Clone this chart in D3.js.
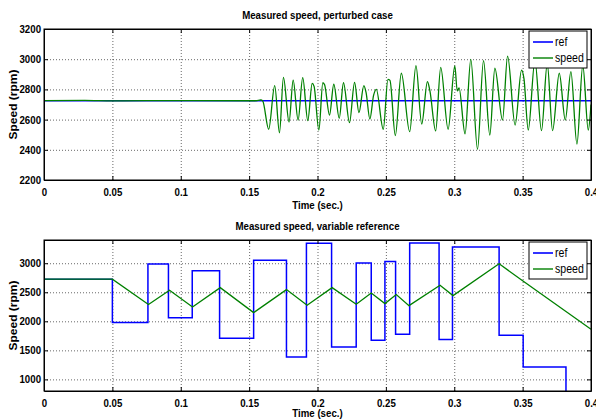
<!DOCTYPE html>
<html>
<head>
<meta charset="utf-8">
<script src="https://cdn.jsdelivr.net/npm/d3@7"></script>
<style>
  body { margin: 0; background: #fff; }
  svg { display: block; font-family: "Liberation Sans", Arial, sans-serif; }
  .grid line { stroke: #000; stroke-dasharray: 1,2; stroke-width: 0.8; opacity: 0.75; }
  .grid path { display: none; }
  .tick text { font-weight: bold; font-size: 11px; fill: #000; }
  .frame path, .frame line { stroke: #000; }
</style>
</head>
<body>
<div id="chart"></div>
<script>
// Shared x ticks (seconds)
const timeTicks = [0, 0.05, 0.1, 0.15, 0.2, 0.25, 0.3, 0.35, 0.4];

// Top panel: perturbed case
const perturbedTicks = [2200, 2400, 2600, 2800, 3000, 3200];
const perturbedRef = [[0, 2725], [0.4, 2725]];
const perturbedSpeed = [
  [0, 2725], [0.03, 2727], [0.05, 2724], [0.1, 2726], [0.155, 2725], [0.1585, 2730], [0.160, 2722],
  [0.1643, 2536], [0.1687, 2825], [0.1722, 2513], [0.1751, 2880], [0.1792, 2584], [0.1822, 2862],
  [0.1858, 2597], [0.1892, 2878], [0.1929, 2593], [0.1961, 2840], [0.1975, 2820], [0.2010, 2531],
  [0.2039, 2844], [0.2052, 2830], [0.2088, 2630], [0.2119, 2834], [0.2159, 2609], [0.2190, 2844],
  [0.2234, 2580], [0.2271, 2847], [0.2303, 2646], [0.2339, 2825], [0.2355, 2780], [0.2383, 2604],
  [0.2410, 2760], [0.2430, 2800], [0.2481, 2536], [0.2515, 2867], [0.2530, 2860], [0.2569, 2494],
  [0.2613, 2907], [0.2674, 2520], [0.2720, 2958], [0.2762, 2571], [0.2804, 2851], [0.2822, 2790],
  [0.2864, 2525], [0.2901, 2946], [0.2955, 2536], [0.3004, 2955], [0.3022, 2790], [0.3035, 2810],
  [0.3079, 2505], [0.3121, 2999], [0.3170, 2403], [0.3214, 2990], [0.3260, 2498], [0.3297, 2940],
  [0.3353, 2597], [0.3390, 3021], [0.3445, 2564], [0.3492, 2928], [0.3510, 2870], [0.3541, 2531],
  [0.3590, 2990], [0.3638, 2527], [0.3680, 2970], [0.3719, 2527], [0.3768, 2907], [0.3812, 2597],
  [0.3853, 2918], [0.3897, 2438], [0.3940, 2960], [0.3980, 2531], [0.4, 2700]
];

// Bottom panel: variable reference
const variableTicks = [1000, 1500, 2000, 2500, 3000];
const variableRef = [
  [0, 2725], [0.05, 1980], [0.076, 2985], [0.091, 2060], [0.1084, 2870], [0.1284, 1710],
  [0.1533, 3050], [0.1773, 1385], [0.1919, 3345], [0.2103, 1557], [0.2283, 3005], [0.2393, 1672],
  [0.2493, 3030], [0.2571, 1776], [0.2674, 3350], [0.2889, 1685], [0.2987, 3280], [0.3328, 1760],
  [0.3504, 1212], [0.3817, 600], [0.4, 600]
];
const variableSpeed = [
  [0, 2725], [0.05, 2725], [0.0764, 2288], [0.0918, 2534], [0.1086, 2247], [0.1289, 2580],
  [0.1533, 2150], [0.1773, 2546], [0.1924, 2276], [0.2107, 2580], [0.2283, 2293], [0.2393, 2488],
  [0.2493, 2305], [0.2576, 2460], [0.2669, 2270], [0.2896, 2620], [0.2991, 2443], [0.3328, 2990],
  [0.35, 2700], [0.4, 1862]
];

const W = 596, H = 420;
const squeeze = 0.88; // the original figure looks squeezed horizontally

const svg = d3.select("#chart").append("svg")
    .attr("width", W)
    .attr("height", H);
svg.append("rect").attr("width", W).attr("height", H).attr("fill", "#fff");

// squeeze text horizontally around its own anchor point
function condense(sel) {
  sel.each(function() {
    const t = d3.select(this);
    const ax = +t.attr("x") || 0, ay = +t.attr("y") || 0;
    t.attr("transform", `translate(${ax},${ay}) scale(${squeeze},1) translate(${-ax},${-ay})`);
  });
}

function drawPanel(opt, idx) {
  const left = 44, right = 591;
  const x = d3.scaleLinear().domain([0, 0.4]).range([left, right]);
  const y = d3.scaleLinear().domain(opt.yDomain).range([opt.bottom, opt.top]);
  const w = right - left, h = opt.bottom - opt.top;

  const g = svg.append("g");

  // Grid
  g.append("g").attr("class", "grid")
      .attr("transform", `translate(0,${opt.bottom})`)
      .call(d3.axisBottom(x).tickValues(timeTicks).tickSize(-h).tickFormat(""));
  g.append("g").attr("class", "grid")
      .attr("transform", `translate(${left},0)`)
      .call(d3.axisLeft(y).tickValues(opt.yTicks).tickSize(-w).tickFormat(""));

  // Lines
  const clipId = "clip" + idx;
  g.append("clipPath").attr("id", clipId)
    .append("rect").attr("x", left).attr("y", opt.top).attr("width", w).attr("height", h);

  const plot = g.append("g").attr("clip-path", `url(#${clipId})`);
  plot.append("path")
      .datum(opt.ref)
      .attr("fill", "none")
      .attr("stroke", "#0000ff")
      .attr("stroke-width", 1.5)
      .attr("d", d3.line().x(d => x(d[0])).y(d => y(d[1])).curve(opt.refCurve));
  plot.append("path")
      .datum(opt.speed)
      .attr("fill", "none")
      .attr("stroke", "#008000")
      .attr("stroke-width", 1.3)
      .attr("d", d3.line().x(d => x(d[0])).y(d => y(d[1])).curve(opt.speedCurve));

  // Axes with inward ticks, all four sides
  const xb = g.append("g").attr("class", "frame")
      .attr("transform", `translate(0,${opt.bottom})`)
      .call(d3.axisBottom(x).tickValues(timeTicks).tickSize(-4).tickSizeOuter(0)
        .tickFormat(d => String(+d.toFixed(2))));
  xb.selectAll(".tick text").attr("y", 8).call(condense);
  g.append("g").attr("class", "frame")
      .attr("transform", `translate(0,${opt.top})`)
      .call(d3.axisTop(x).tickValues(timeTicks).tickSize(-4).tickSizeOuter(0).tickFormat(""));
  const yl = g.append("g").attr("class", "frame")
      .attr("transform", `translate(${left},0)`)
      .call(d3.axisLeft(y).tickValues(opt.yTicks).tickSize(-4).tickSizeOuter(0)
        .tickFormat(d3.format("d")));
  yl.selectAll(".tick text").attr("x", -3).call(condense);
  g.append("g").attr("class", "frame")
      .attr("transform", `translate(${right},0)`)
      .call(d3.axisRight(y).tickValues(opt.yTicks).tickSize(-4).tickSizeOuter(0).tickFormat(""));
  g.append("rect")
      .attr("x", left).attr("y", opt.top).attr("width", w).attr("height", h)
      .attr("fill", "none").attr("stroke", "#000").attr("stroke-width", 1);

  // Title and labels
  g.append("text")
      .attr("x", (left + right) / 2).attr("y", opt.top - 10)
      .attr("text-anchor", "middle")
      .attr("font-weight", "bold").attr("font-size", 11)
      .text(opt.title)
      .call(condense);
  g.append("text")
      .attr("x", (left + right) / 2).attr("y", opt.bottom + opt.xLabelGap)
      .attr("text-anchor", "middle")
      .attr("font-weight", "bold").attr("font-size", 11)
      .text("Time (sec.)")
      .call(condense);
  // rotated label: squeeze acts on its thickness, not its length
  g.append("text")
      .attr("transform", `translate(17,${(opt.top + opt.bottom) / 2}) rotate(-90) scale(1,${squeeze})`)
      .attr("text-anchor", "middle")
      .attr("font-weight", "bold").attr("font-size", 12)
      .text("Speed (rpm)");

  // Legend
  const lg = g.append("g").attr("transform", `translate(529,${opt.top + 2})`);
  lg.append("rect").attr("width", 58).attr("height", 37)
      .attr("fill", "#fff").attr("stroke", "#000").attr("stroke-width", 1);
  const items = [["ref", "#0000ff", 1.6], ["speed", "#008000", 1.4]];
  items.forEach((it, i) => {
    const yy = 11 + i * 16;
    lg.append("line").attr("x1", 4).attr("x2", 24).attr("y1", yy).attr("y2", yy)
        .attr("stroke", it[1]).attr("stroke-width", it[2]);
    lg.append("text").attr("x", 26).attr("y", yy + 4)
        .attr("font-size", 12).text(it[0])
        .call(condense);
  });
}

drawPanel({
  top: 29, bottom: 180, yDomain: [2200, 3200], yTicks: perturbedTicks,
  title: "Measured speed, perturbed case", xLabelGap: 29,
  ref: perturbedRef, speed: perturbedSpeed,
  refCurve: d3.curveLinear, speedCurve: d3.curveMonotoneX
}, 0);

drawPanel({
  top: 240, bottom: 391, yDomain: [800, 3400], yTicks: variableTicks,
  title: "Measured speed, variable reference", xLabelGap: 26,
  ref: variableRef, speed: variableSpeed,
  refCurve: d3.curveStepAfter, speedCurve: d3.curveLinear
}, 1);
</script>
</body>
</html>
